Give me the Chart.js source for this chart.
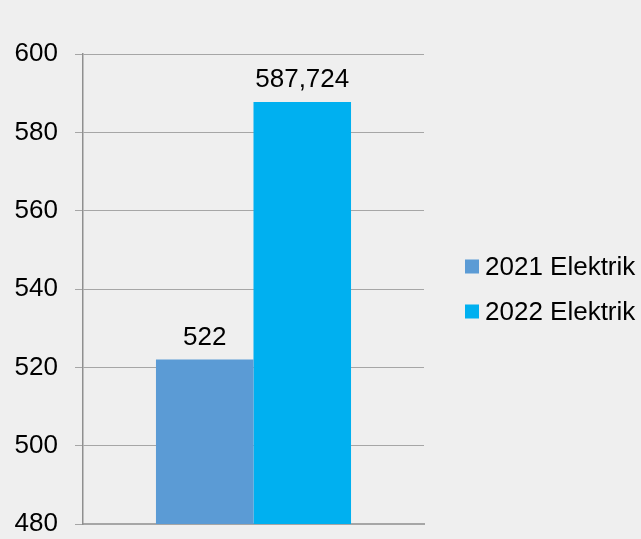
<!DOCTYPE html>
<html>
<head>
<meta charset="utf-8">
<script src="https://cdn.jsdelivr.net/npm/chart.js@4/dist/chart.umd.min.js"></script>
<style>
  html, body { margin: 0; padding: 0; background: #efefef; overflow: hidden; }
  canvas { display: block; }
</style>
</head>
<body>
<canvas id="chart" width="641" height="539"></canvas>
<script>
const categories = ['']
const series_names = ['2021 Elektrik', '2022 Elektrik']
const values_2021 = [522]
const values_2022 = [587.724]
const y_ticks = [480, 500, 520, 540, 560, 580, 600]

const FONT = '"Liberation Sans", Arial, sans-serif'

const fmt = v => String(v).replace('.', ',')

// value labels above the bars
const bar_labels = {
    id: 'bar_labels',
    afterDatasetsDraw(chart) {
        const ctx = chart.ctx
        ctx.save()
        ctx.font = '26px ' + FONT
        ctx.fillStyle = '#000'
        ctx.textAlign = 'center'
        ctx.textBaseline = 'alphabetic'
        chart.data.datasets.forEach((ds, i) => {
            chart.getDatasetMeta(i).data.forEach((bar, j) => {
                ctx.fillText(fmt(ds.data[j]), bar.x, bar.y - 15)
            })
        })
        ctx.restore()
    }
}

// legend on the right, next to the plot
const side_legend = {
    id: 'side_legend',
    afterDraw(chart) {
        const ctx = chart.ctx
        const area = chart.chartArea
        const x = area.right + 41
        const mid = (area.top + area.bottom) / 2
        const step = 45
        const n = chart.data.datasets.length
        ctx.save()
        ctx.font = '26px ' + FONT
        ctx.textBaseline = 'middle'
        ctx.textAlign = 'left'
        chart.data.datasets.forEach((ds, i) => {
            const cy = mid + (i - (n - 1) / 2) * step
            ctx.fillStyle = ds.backgroundColor
            ctx.fillRect(x, cy - 7, 14, 14)
            ctx.fillStyle = '#000'
            ctx.fillText(ds.label, x + 20, cy + 1)
        })
        ctx.restore()
    }
}

const config = {
    type: 'bar',
    data: {
        labels: categories,
        datasets: [{
            label: series_names[0],
            backgroundColor: '#5b9bd5',
            data: values_2021
        }, {
            label: series_names[1],
            backgroundColor: '#00b0f0',
            data: values_2022
        }]
    },
    options: {
        responsive: false,
        animation: false,
        categoryPercentage: 0.572,
        barPercentage: 1,
        layout: {
            padding: { left: 15, right: 217, top: 54, bottom: 15 }
        },
        scales: {
            x: {
                grid: { display: false },
                ticks: { display: false },
                border: { display: true, color: '#a6a6a6', width: 2 },
                afterFit: axis => { axis.height = 0 }
            },
            y: {
                min: 480,
                max: 600,
                afterBuildTicks: axis => {
                    axis.ticks = y_ticks.map(v => ({ value: v }))
                },
                afterFit: axis => {
                    axis.width = 68
                    axis.paddingTop = 15
                    axis.paddingBottom = 15
                },
                ticks: {
                    color: '#000',
                    padding: 17,
                    font: { family: FONT, size: 26 }
                },
                grid: {
                    color: '#a6a6a6',
                    tickColor: '#a6a6a6',
                    tickLength: 8
                },
                border: { color: '#8f8f8f', width: 1.5 }
            }
        },
        plugins: {
            legend: { display: false },
            tooltip: { enabled: false }
        }
    },
    plugins: [bar_labels, side_legend]
}

new Chart(document.getElementById('chart'), config)
</script>
</body>
</html>
